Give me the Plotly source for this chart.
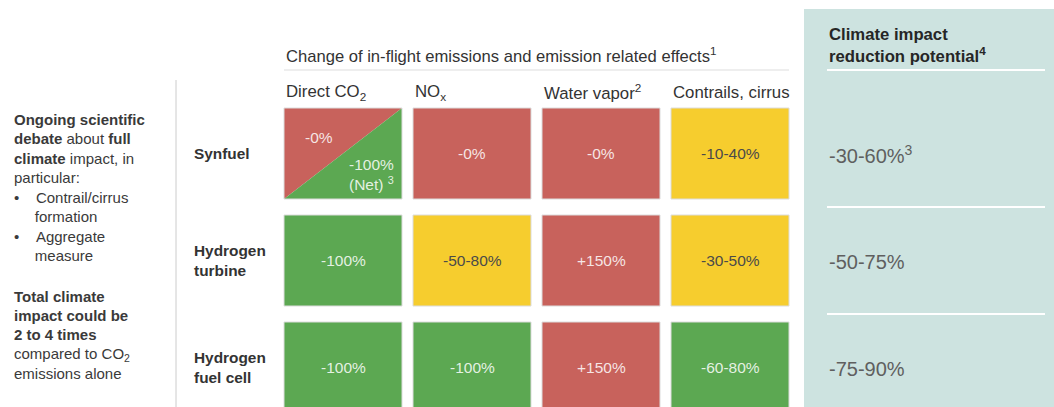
import plotly.graph_objects as go

# ---- data -------------------------------------------------------------
technologies = ["Synfuel", "Hydrogen<br>turbine", "Hydrogen<br>fuel cell"]
effects = ["Direct CO<sub>2</sub>", "NO<sub>x</sub>", "Water vapor<sup>2</sup>", "Contrails, cirrus"]
change_labels = [
    ["-0%", "-0%", "-0%", "-10-40%"],
    ["-100%", "-50-80%", "+150%", "-30-50%"],
    ["-100%", "-100%", "+150%", "-60-80%"],
]
ratings = [
    ["split", "red", "red", "yellow"],
    ["green", "yellow", "red", "yellow"],
    ["green", "green", "red", "green"],
]
synfuel_net_label = "-100%<br>(Net) <sup>3</sup>"
reduction_potential = ["-30-60%<sup>3</sup>", "-50-75%", "-75-90%"]

header_text = "Change of in-flight emissions and emission related effects<sup>1</sup>"
potential_header = "<b>Climate impact<br>reduction potential<sup>4</sup></b>"
side_note_1 = [
    "<b>Ongoing scientific</b>",
    "<b>debate</b> about <b>full</b>",
    "<b>climate</b> impact, in",
    "particular:",
    "•&nbsp;&nbsp;&nbsp;&nbsp;Contrail/cirrus",
    "&nbsp;&nbsp;&nbsp;&nbsp;&nbsp;formation",
    "•&nbsp;&nbsp;&nbsp;&nbsp;Aggregate",
    "&nbsp;&nbsp;&nbsp;&nbsp;&nbsp;measure",
]
side_note_2 = [
    "<b>Total climate</b>",
    "<b>impact could be</b>",
    "<b>2 to 4 times</b>",
    "compared to CO<sub>2</sub>",
    "emissions alone",
]

# ---- styling ----------------------------------------------------------
W, H = 1054, 407
FONT = "Liberation Sans, Arial, sans-serif"
COLORS = {"red": "#c8625c", "green": "#5ca852", "yellow": "#f6cd2e"}
TEXT_ON = {"red": "rgba(255,255,255,0.85)", "green": "rgba(255,255,255,0.85)", "yellow": "#4a4a4a"}
BORDER = "#dcdcdc"
PANEL = "#cde3e0"

GRID_X0, COL_PITCH, CELL_W = 284, 129, 118
GRID_Y0, ROW_PITCH, CELL_H = 108, 107, 91

fig = go.Figure()


def add_poly(xs, ys, fill, line_color=None, width=0):
    fig.add_trace(go.Scatter(
        x=xs, y=ys, mode="lines", fill="toself", fillcolor=fill,
        line=dict(color=line_color or fill, width=width),
        hoverinfo="skip", showlegend=False,
    ))


def add_text(x, y, text, size, color, xanchor="center", yanchor="middle", align="center"):
    fig.add_annotation(
        x=x, y=y, text=text, showarrow=False, xanchor=xanchor, yanchor=yanchor,
        align=align, font=dict(family=FONT, size=size, color=color),
    )


# right panel background
fig.add_shape(type="rect", x0=804, x1=W + 5, y0=9, y1=H + 5, fillcolor=PANEL, line_width=0, layer="below")

# header + rule
add_text(GRID_X0, 55, header_text, 16.6, "#333", xanchor="left")
fig.add_shape(type="line", x0=GRID_X0, x1=GRID_X0 + 3 * COL_PITCH + CELL_W, y0=70, y1=70,
              line=dict(color="#dddddd", width=1))
# vertical divider
fig.add_shape(type="line", x0=176, x1=176, y0=80, y1=H + 5, line=dict(color="#cccccc", width=1))

# column headers
for j, eff in enumerate(effects):
    add_text(GRID_X0 + j * COL_PITCH, 92, eff, 16.8, "#333", xanchor="left")

# cells
for i, tech in enumerate(technologies):
    y0 = GRID_Y0 + i * ROW_PITCH
    y1 = y0 + CELL_H
    yc = (y0 + y1) / 2
    add_text(192, yc, "<b>" + tech + "</b>", 15.4, "#333", xanchor="left", align="left")
    for j in range(len(effects)):
        x0 = GRID_X0 + j * COL_PITCH
        x1 = x0 + CELL_W
        r = ratings[i][j]
        if r == "split":
            add_poly([x0, x1, x0, x0], [y0, y0, y1, y0], COLORS["red"])
            add_poly([x1, x1, x0, x1], [y0, y1, y1, y0], COLORS["green"])
            fig.add_trace(go.Scatter(x=[x0, x1, x1, x0, x0], y=[y0, y0, y1, y1, y0], mode="lines",
                                     line=dict(color=BORDER, width=1), hoverinfo="skip", showlegend=False))
            add_text(x0 + 0.3 * CELL_W, y0 + 0.32 * CELL_H, change_labels[i][j], 15.5, TEXT_ON["red"])
            add_text(x0 + 0.74 * CELL_W, y0 + 0.73 * CELL_H, synfuel_net_label, 15.5, TEXT_ON["green"])
        else:
            add_poly([x0, x1, x1, x0, x0], [y0, y0, y1, y1, y0], COLORS[r], BORDER, 1)
            add_text((x0 + x1) / 2, yc, change_labels[i][j], 15.5, TEXT_ON[r])

    # reduction potential column
    add_text(827, yc + 1, reduction_potential[i], 20, "#5f5f5f", xanchor="left")

# potential header and separators
add_text(827, 45, potential_header, 16.7, "#262626", xanchor="left", align="left")
for yl in [70, GRID_Y0 + ROW_PITCH - 8, GRID_Y0 + 2 * ROW_PITCH - 8]:
    fig.add_shape(type="line", x0=827, x1=1045, y0=yl, y1=yl, line=dict(color="white", width=2))

# left notes
for k, line in enumerate(side_note_1):
    add_text(12, 119 + k * 19.5, line, 15, "#3a3a3a", xanchor="left", align="left")
for k, line in enumerate(side_note_2):
    add_text(12, 296 + k * 19.4, line, 15, "#3a3a3a", xanchor="left", align="left")

fig.update_layout(
    width=W, height=H,
    margin=dict(l=0, r=0, t=0, b=0),
    paper_bgcolor="white", plot_bgcolor="white",
    xaxis=dict(range=[0, W], visible=False, fixedrange=True),
    yaxis=dict(range=[H, 0], visible=False, fixedrange=True),
    showlegend=False,
)

# page body has a default 8px margin; drop it so the figure sits at the window origin
fig.write_html("out.html", post_script="document.body.style.margin='0';",
               config={"displayModeBar": False})
